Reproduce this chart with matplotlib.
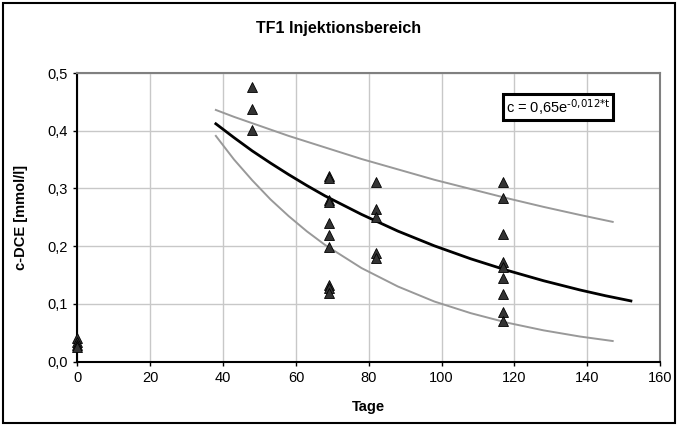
import matplotlib.pyplot as plt
from matplotlib.patches import Rectangle

plt.rcParams['font.family'] = ['Liberation Sans', 'DejaVu Sans']
plt.rcParams['mathtext.default'] = 'regular'

# measured points (Tage, c-DCE)
tage = [0, 0, 0, 0,
        48, 48, 48,
        69, 69, 69, 69, 69, 69, 69, 69, 69, 69,
        82, 82, 82, 82, 82,
        117, 117, 117, 117, 117, 117, 117, 117, 117]
cdce = [0.041, 0.033, 0.029, 0.025,
        0.475, 0.437, 0.401,
        0.322, 0.318, 0.280, 0.277, 0.240, 0.219, 0.198, 0.133, 0.128, 0.118,
        0.311, 0.265, 0.250, 0.188, 0.180,
        0.311, 0.283, 0.221, 0.173, 0.164, 0.144, 0.117, 0.086, 0.071]

# fit curve c = 0,65 e^(-0,012 t), read at these days
fit_t = [38, 43, 48, 53, 58, 63, 68, 78, 88, 98, 108, 118, 128, 138, 145, 152]
fit_c = [0.412, 0.388, 0.365, 0.344, 0.324, 0.305, 0.287, 0.255, 0.226,
         0.2005, 0.178, 0.158, 0.140, 0.124, 0.114, 0.105]

# upper / lower band
band_t = [38, 43, 48, 53, 58, 63, 68, 78, 88, 98, 108, 118, 128, 138, 147]
upper = [0.436, 0.424, 0.413, 0.402, 0.391, 0.381, 0.371, 0.351, 0.333,
         0.315, 0.299, 0.283, 0.268, 0.254, 0.242]
lower = [0.391, 0.350, 0.314, 0.281, 0.252, 0.2256, 0.202, 0.162, 0.130,
         0.104, 0.0838, 0.0673, 0.054, 0.0433, 0.0355]

xticks = [0, 20, 40, 60, 80, 100, 120, 140, 160]
yticks = [0.0, 0.1, 0.2, 0.3, 0.4, 0.5]
ylabels = ['0,0', '0,1', '0,2', '0,3', '0,4', '0,5']

fig = plt.figure(figsize=(6.78, 4.26), dpi=100)
ax = fig.add_axes([0.1143, 0.1514, 0.8592, 0.6772])

ax.plot(band_t, upper, color='#999999', lw=1.4, zorder=2)
ax.plot(band_t, lower, color='#999999', lw=1.4, zorder=2)
ax.plot(fit_t, fit_c, color='black', lw=2.0, zorder=3)
ax.plot(tage, cdce, linestyle='none', marker='^', ms=7.5,
        markerfacecolor='#333333', markeredgecolor='black', markeredgewidth=0.6,
        zorder=4, clip_on=False)

ax.set_xlim(0, 160)
ax.set_ylim(0, 0.5)
ax.set_xticks(xticks)
ax.set_xticklabels([str(x) for x in xticks])
ax.set_yticks(yticks)
ax.set_yticklabels(ylabels)
ax.tick_params(direction='out', length=3, width=1, labelsize=10.5, pad=4)
ax.grid(color='#c8c8c8', lw=1)
ax.set_axisbelow(True)

for s in ['left', 'bottom']:
    ax.spines[s].set_color('black')
    ax.spines[s].set_linewidth(1.5)
for s in ['top', 'right']:
    ax.spines[s].set_color('#808080')
    ax.spines[s].set_linewidth(1.5)

ax.set_xlabel('Tage', fontweight='bold', fontsize=10.5, va='center')
ax.xaxis.set_label_coords(0.5, -0.158)
ax.set_ylabel('c-DCE [mmol/l]', fontweight='bold', fontsize=10.5, va='center')
ax.yaxis.set_label_coords(-0.097, 0.5)
fig.text(0.5, 0.932, 'TF1 Injektionsbereich', ha='center', va='center',
         fontweight='bold', fontsize=11.5)

ax.text(132, 0.441, r'c = 0,65e$^{\text{-0,012*t}}$', ha='center', va='center',
        fontsize=10.5,
        bbox=dict(boxstyle='square,pad=0.2', facecolor='white',
                  edgecolor='black', lw=2.2))

fig.patches.append(Rectangle((0.004, 0.006), 0.992, 0.988, transform=fig.transFigure,
                             fill=False, edgecolor='black', lw=1.5))

fig.savefig('out.png', dpi=100)
